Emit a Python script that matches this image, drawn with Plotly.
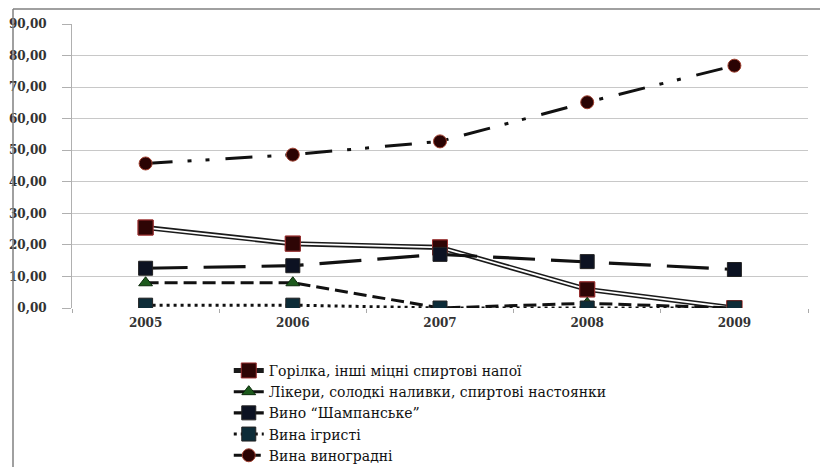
import plotly.graph_objects as go

years = ["2005", "2006", "2007", "2008", "2009"]
horilka = [25.5, 20.4, 19.2, 5.9, 0.0]
likery = [8.0, 8.0, 0.0, 1.5, 0.0]
shampanske = [12.6, 13.4, 17.0, 14.7, 12.2]
ihristi = [0.9, 0.9, 0.0, 0.0, 0.0]
vynohradni = [45.8, 48.6, 52.8, 65.2, 76.8]

names = [
    "Горілка, інші міцні спиртові напої",
    "Лікери, солодкі наливки, спиртові настоянки",
    "Вино “Шампанське”",
    "Вина ігристі",
    "Вина виноградні",
]
y_tickvals = [0, 10, 20, 30, 40, 50, 60, 70, 80, 90]
y_ticktext = ["0,00", "10,00", "20,00", "30,00", "40,00", "50,00", "60,00", "70,00", "80,00", "90,00"]

FONT = "DejaVu Serif, Liberation Serif, serif"

fig = go.Figure()

# Горілка: double line (black outline, white core)
fig.add_trace(go.Scatter(
    x=years, y=horilka, name=names[0], mode="lines+markers",
    line=dict(color="#1a1a1a", width=5),
    marker=dict(symbol="square", size=15, color="#2e0505", line=dict(color="#9a3030", width=1)),
    legendgroup="h", legendrank=1,
))
fig.add_trace(go.Scatter(
    x=years, y=horilka, mode="lines", showlegend=False, hoverinfo="skip",
    line=dict(color="#ffffff", width=1.8), legendgroup="h",
))
fig.add_trace(go.Scatter(
    x=years, y=horilka, mode="markers", showlegend=False,
    marker=dict(symbol="square", size=15, color="#2e0505", line=dict(color="#9a3030", width=1)),
    legendgroup="h",
))

fig.add_trace(go.Scatter(
    x=years, y=likery, name=names[1], mode="lines+markers",
    line=dict(color="#111111", width=3, dash="13px,6px"),
    marker=dict(symbol="triangle-up", size=12, color="#1d5a1d", line=dict(color="#0a2a0a", width=1)),
    legendrank=2,
))

fig.add_trace(go.Scatter(
    x=years, y=shampanske, name=names[2], mode="lines+markers",
    line=dict(color="#111111", width=3.2, dash="42px,16px"),
    marker=dict(symbol="square", size=14, color="#0c1222", line=dict(color="#222", width=1)),
    legendrank=3,
))

fig.add_trace(go.Scatter(
    x=years, y=ihristi, name=names[3], mode="lines+markers",
    line=dict(color="#111111", width=3, dash="3px,4px"),
    marker=dict(symbol="square", size=14, color="#0d2c38", line=dict(color="#222", width=1)),
    legendrank=4,
))

fig.add_trace(go.Scatter(
    x=years, y=vynohradni, name=names[4], mode="lines+markers",
    line=dict(color="#111111", width=3, dash="27px,15px,4px,14px,4px,16px"),
    marker=dict(symbol="circle", size=13, color="#2a0303", line=dict(color="#a04030", width=1)),
    legendrank=5,
))

# outer frame (left and top edges)
x_left = (13 - 72) / 736
x_right = (820 - 72) / 736
y_top = (308 - 9) / 284
y_bot = (308 - 467) / 284
shapes = [
    dict(type="line", xref="paper", yref="paper", x0=x_left, x1=x_left, y0=y_bot, y1=y_top,
         line=dict(color="#808080", width=1.5)),
    dict(type="line", xref="paper", yref="paper", x0=x_left, x1=x_right, y0=y_top, y1=y_top,
         line=dict(color="#808080", width=1.5)),
]

fig.update_layout(
    width=820, height=467,
    margin=dict(l=72, r=12, t=24, b=159, autoexpand=False),
    paper_bgcolor="white", plot_bgcolor="white",
    font=dict(family=FONT, color="#222", size=12),
    shapes=shapes,
    showlegend=True,
    legend=dict(
        x=0.213, y=-0.165, xanchor="left", yanchor="top",
        font=dict(family=FONT, size=14, color="#111"),
        tracegroupgap=0, itemwidth=30, bgcolor="rgba(0,0,0,0)",
    ),
    xaxis=dict(
        type="category", range=[-0.5, 4.5], showgrid=False, showline=False,
        ticks="outside", tickson="boundaries", ticklen=4, tickcolor="#aaa",
        tickfont=dict(family=FONT, size=12, color="#333", weight="bold"),
        ticklabelstandoff=6,
        zeroline=False,
    ),
    yaxis=dict(
        range=[0, 90], tickvals=y_tickvals, ticktext=y_ticktext,
        showgrid=True, gridcolor="#c8c8c8", gridwidth=1.2,
        showline=True, linecolor="#b0b0b0", linewidth=1,
        ticks="outside", ticklen=9, tickcolor="#b0b0b0",
        tickfont=dict(family=FONT, size=12, color="#333", weight="bold"),
        ticklabelstandoff=13,
        zeroline=False,
    ),
)

fig.write_html("out.html", config={"displayModeBar": False},
               post_script="document.body.style.margin='0';")
